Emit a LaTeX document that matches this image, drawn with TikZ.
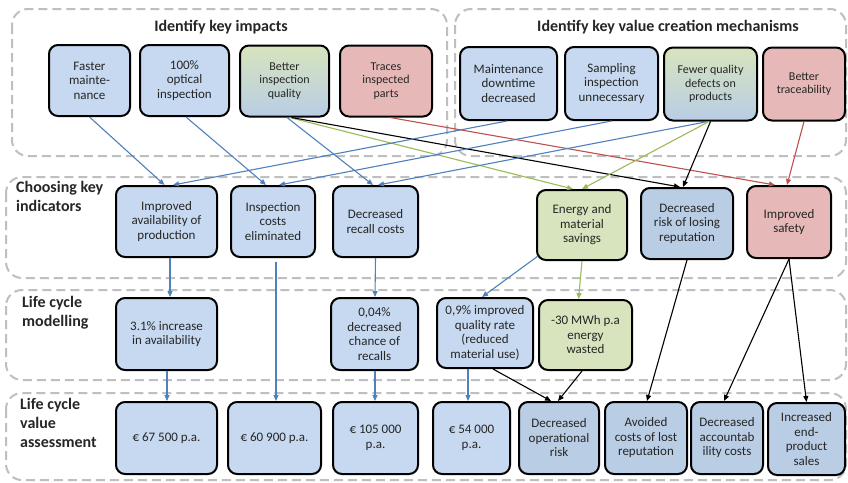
\documentclass[tikz,border=0pt]{standalone}
\usepackage{fontspec}
\setmainfont{Carlito}
\usetikzlibrary{arrows.meta}
\definecolor{bluefill}{HTML}{C6D9F0}
\definecolor{bluedark}{HTML}{B9CDE5}
\definecolor{greenfill}{HTML}{D7E4BD}
\definecolor{pinkfill}{HTML}{E6B9B8}
\definecolor{cblue}{HTML}{4F81BD}
\definecolor{cgreen}{HTML}{9BBB59}
\definecolor{cred}{HTML}{C0504D}
\definecolor{framegray}{HTML}{BFBFBF}
\definecolor{txt}{HTML}{262626}
\tikzset{
  box/.style={draw=black, line width=2pt, rounded corners=9pt, align=center, text=txt,
    font=\fontsize{13}{14.5}\selectfont, inner sep=1pt},
  bluebox/.style={box, fill=bluefill},
  dbluebox/.style={box, fill=bluedark},
  greenbox/.style={box, fill=greenfill},
  pinkbox/.style={box, fill=pinkfill},
  gradbox/.style={box, top color=greenfill, bottom color=bluedark},
  small/.style={font=\fontsize{12}{13.5}\selectfont},
  grp/.style={draw=framegray, line width=2pt, dash pattern=on 9pt off 5pt, rounded corners=16pt},
  title/.style={font=\fontsize{16}{19}\selectfont\bfseries, text=txt},
  side/.style={font=\fontsize{16}{19}\selectfont\bfseries, text=txt, align=left, anchor=north west, inner sep=0pt},
  conn/.style={line width=1.1pt, -{Triangle[length=6pt,width=5pt]}},
}
\begin{document}
\begin{tikzpicture}[x=1pt,y=-1pt]
\useasboundingbox (0,0) rectangle (848,482);
\fill[white] (0,0) rectangle (848,482);
% group frames
\draw[grp] (12,9) rectangle (447,156);
\draw[grp] (455,9) rectangle (846,156);
\draw[grp] (6,177) rectangle (846,278);
\draw[grp] (6,290) rectangle (846,380);
\draw[grp] (6,393) rectangle (846,480);
% titles
\node[title] (t1) at (221,27) {Identify key impacts};
\node[title] (t2) at (668,27) {Identify key value creation mechanisms};
\node[side] (s1) at (16,181) {Choosing key\\indicators};
\node[side] (s2) at (22,296) {Life cycle\\modelling};
\node[side] (s3) at (20,398) {Life cycle\\value\\assessment};
% row 1
\node[bluebox, minimum width=81pt, minimum height=71pt] (n1) at (89.5,80.5) {Faster\\mainte-\\nance};
\node[bluebox, minimum width=89pt, minimum height=71pt] (n2) at (184.5,80.5) {100\%\\optical\\inspection};
\node[gradbox, small, minimum width=89pt, minimum height=71pt] (n3) at (284.5,81) {Better\\inspection\\quality};
\node[pinkbox, small, minimum width=92pt, minimum height=71pt] (n4) at (386,81) {Traces\\inspected\\parts};
\node[bluebox, minimum width=97pt, minimum height=73pt] (n5) at (508.5,83.5) {Maintenance\\downtime\\decreased};
\node[bluebox, minimum width=93pt, minimum height=73pt] (n6) at (611.5,83.5) {Sampling\\inspection\\unnecessary};
\node[gradbox, small, minimum width=93pt, minimum height=73pt] (n7) at (710.5,84) {Fewer quality\\defects on\\products};
\node[pinkbox, small, minimum width=82pt, minimum height=73pt] (n8) at (804,84) {Better\\traceability};
% row 2
\node[bluebox, minimum width=101pt, minimum height=71pt] (r2a) at (166.5,221.5) {Improved\\availability of\\production};
\node[bluebox, minimum width=84pt, minimum height=71pt] (r2b) at (273,221.5) {Inspection\\costs\\eliminated};
\node[bluebox, minimum width=85pt, minimum height=71pt] (r2c) at (375.5,221.5) {Decreased\\recall costs};
\node[greenbox, minimum width=90pt, minimum height=70pt] (r2d) at (582,225) {Energy and\\material\\savings};
\node[dbluebox, minimum width=92pt, minimum height=71pt] (r2e) at (687,223.5) {Decreased\\risk of losing\\reputation};
\node[pinkbox, minimum width=84pt, minimum height=72pt] (r2f) at (789,222) {Improved\\safety};
% row 3
\node[bluebox, minimum width=101pt, minimum height=72pt] (r3a) at (166.5,334) {3.1\% increase\\in availability};
\node[bluebox, minimum width=87pt, minimum height=72pt] (r3c) at (374.5,334) {0,04\%\\decreased\\chance of\\recalls};
\node[bluebox, minimum width=96pt, minimum height=70pt] (r3d) at (485,333) {0,9\% improved\\quality rate\\(reduced\\material use)};
\node[greenbox, minimum width=93pt, minimum height=70pt] (r3e) at (585.5,335) {-30 MWh p.a\\energy\\wasted};
% row 4
\node[bluebox, minimum width=101pt, minimum height=72pt] (r4a) at (166.5,438) {€ 67 500 p.a.};
\node[bluebox, minimum width=93pt, minimum height=72pt] (r4b) at (274.5,438) {€ 60 900 p.a.};
\node[bluebox, minimum width=85pt, minimum height=72pt] (r4c) at (375.5,438) {€ 105 000\\p.a.};
\node[bluebox, minimum width=77pt, minimum height=72pt] (r4d) at (471.5,438) {€ 54 000\\p.a.};
\node[dbluebox, minimum width=80pt, minimum height=72pt] (r4e) at (559,438) {Decreased\\operational\\risk};
\node[dbluebox, minimum width=82pt, minimum height=72pt] (r4f) at (646,438) {Avoided\\costs of lost\\reputation};
\node[dbluebox, minimum width=72pt, minimum height=72pt] (r4g) at (727,438) {Decreased\\accountab\\ility costs};
\node[dbluebox, minimum width=77pt, minimum height=72pt] (r4h) at (806.5,439) {Increased\\end-\\product\\sales};
% connectors row1 -> row2
\draw[conn, cblue] (n1.south) -- ([xshift=-2pt]r2a.north);
\draw[conn, cblue] ([xshift=1.5pt]n2.south) -- ([xshift=-7pt]r2b.north);
\draw[conn, cblue] ([xshift=2.5pt]n3.south) -- ([xshift=-2.5pt]r2c.north);
\draw[conn, cgreen] ([xshift=5pt]n3.south) -- ([xshift=-9pt]r2d.north);
\draw[conn, black] ([xshift=7pt]n3.south) -- ([xshift=-7pt]r2e.north);
\draw[conn, cred] ([xshift=4pt]n4.south) -- ([xshift=-14pt]r2f.north);
\draw[conn, cblue] ([xshift=-1.5pt]n5.south) -- ([xshift=6.5pt]r2a.north);
\draw[conn, cblue] (n6.south) -- ([xshift=6pt]r2b.north);
\draw[conn, cblue] ([xshift=-2.5pt]n7.south) -- ([xshift=2.5pt]r2c.north);
\draw[conn, cgreen] ([xshift=-1.5pt]n7.south) -- (r2d.north);
\draw[conn, black] (n7.south) -- ([xshift=-4pt]r2e.north);
\draw[conn, cred] (n8.south) -- ([xshift=-2pt]r2f.north);
% row2 -> row3/4
\draw[conn, cblue] ([xshift=3.5pt]r2a.south) -- ([xshift=3.5pt]r3a.north);
\draw[conn, cblue, shorten <=4pt] ([xshift=3pt]r2b.south) -- ([xshift=1.5pt]r4b.north);
\draw[conn, cblue] (r2c.south) -- ([xshift=0.5pt]r3c.north);
\draw[conn, cblue] ([xshift=2pt,yshift=5pt]r2d.south west) -- ([xshift=-3pt]r3d.north);
\draw[conn, cgreen] (r2d.south) -- ([xshift=-7pt]r3e.north);
\draw[conn, black] (r2e.south) -- ([xshift=1pt]r4f.north);
\draw[conn, black] (r2f.south) -- ([xshift=-3pt]r4g.north);
\draw[conn, black] (r2f.south) -- (r4h.north);
% row3 -> row4
\draw[conn, cblue] ([xshift=0.5pt]r3a.south) -- ([xshift=0.5pt]r4a.north);
\draw[conn, cblue] ([xshift=0.5pt]r3c.south) -- ([xshift=-0.5pt]r4c.north);
\draw[conn, cblue] ([xshift=-17pt]r3d.south) -- ([xshift=-3.5pt]r4d.north);
\draw[conn, black] ([xshift=8pt]r3d.south) -- ([xshift=-8pt]r4e.north);
\draw[conn, black] ([xshift=-3.5pt]r3e.south) -- ([xshift=-1pt]r4e.north);
\end{tikzpicture}
\end{document}
